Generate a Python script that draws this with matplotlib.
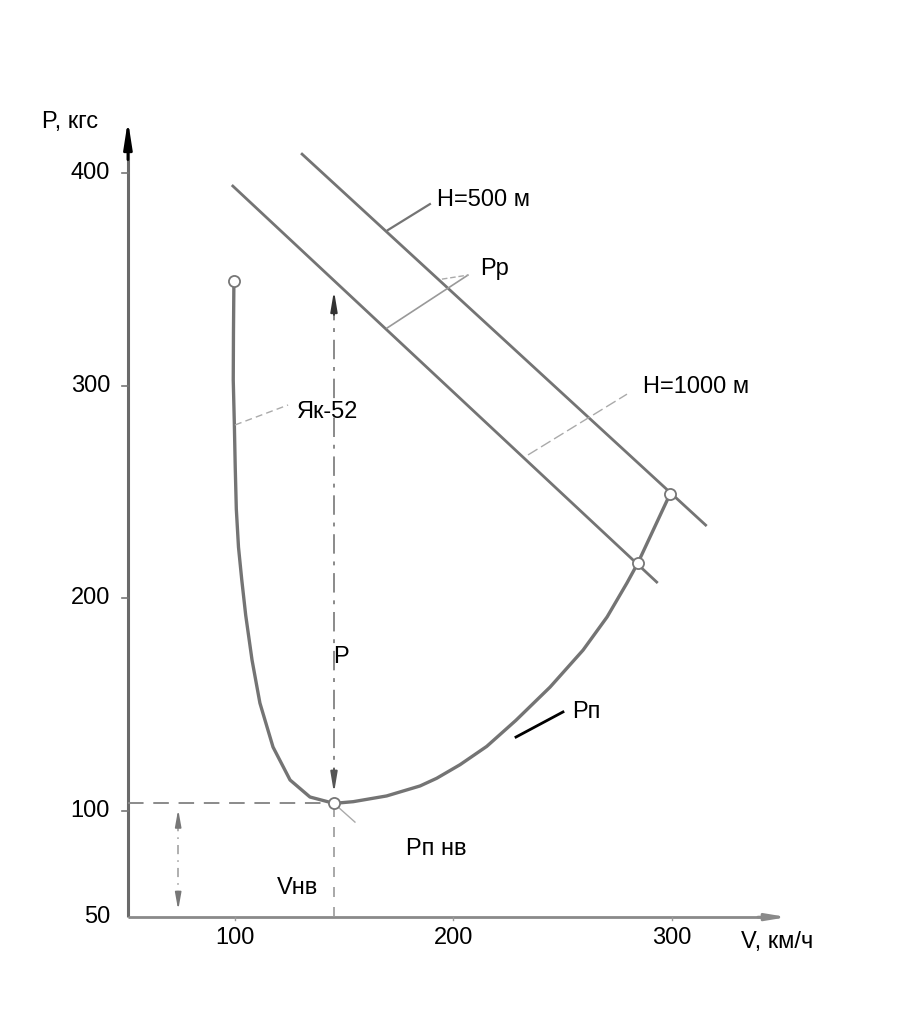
import matplotlib
matplotlib.use("Agg")
from matplotlib import pyplot as plt

plt.rcParams['font.family'] = ['Liberation Sans', 'DejaVu Sans']

# кривая потребной тяги Як-52
v_pn = [99.5, 99.3, 99.2, 99.7, 100.1, 100.6, 101.6, 103.1, 104.9, 107.8, 111.4,
        117.4, 125.2, 134.3, 145.3, 154.1, 169.4, 184.7, 192.3, 203.0, 215.2,
        228.5, 244.2, 259.3, 270.3, 279.4, 284.4, 299.1]
p_pn = [349, 325, 302.6, 282, 262, 242, 224, 208.6, 192, 170.9, 150.7,
        130.0, 114.5, 106.5, 103.5, 104.3, 107.0, 111.7, 115.3, 121.7, 130.3,
        142.5, 158.2, 175.6, 191.2, 207.2, 216.6, 249.0]

# располагаемая тяга
v_h1000 = [99, 293]
p_h1000 = [393.9, 207.6]
v_h500 = [130.7, 315.4]
p_h500 = [408.9, 234.4]

# точки
v_pts = [99.5, 145.3, 284.4, 299.1]
p_pts = [349, 103.5, 216.6, 249.0]

v_nv, p_nv = 145.3, 103.5

yticks = [400, 300, 200, 100, 50]
xticks = [100, 200, 300]

grey = '#747474'
fs = 17

fig = plt.figure(figsize=(9.2, 10.3), dpi=100)
ax = fig.add_axes([0, 0, 1, 1])
ax.set_xlim(-7.55, 413.5)
ax.set_ylim(-3.1, 481.4)
ax.axis('off')

# оси
ax.plot([51, 51], [50, 412], color='#6a6a6a', lw=2.2, solid_capstyle='butt')
ax.annotate('', xy=(51, 426), xytext=(51, 405),
            arrowprops=dict(arrowstyle='-|>,head_length=1.6,head_width=0.25', color='black', lw=2))
ax.plot([51, 342], [50, 50], color='#8a8a8a', lw=2, solid_capstyle='butt')
ax.annotate('', xy=(354, 50), xytext=(338, 50),
            arrowprops=dict(arrowstyle='-|>,head_length=1.2,head_width=0.2', color='#8a8a8a', lw=2))

for y in yticks[:-1]:
    ax.plot([48.5, 51], [y, y], color='#777777', lw=1.2)
    ax.text(42.8, y, str(y), ha='right', va='center', fontsize=fs)
ax.text(42.8, 50, '50', ha='right', va='center', fontsize=fs)
for x in xticks:
    ax.plot([x, x], [50, 48.8], color='#999999', lw=1)
    ax.text(x, 40.2, str(x), ha='center', va='center', fontsize=fs)

ax.text(11.7, 424, 'P, кгс', ha='left', va='center', fontsize=fs)
ax.text(331.6, 38.3, 'V, км/ч', ha='left', va='center', fontsize=fs)

# линии
ax.plot(v_h1000, p_h1000, color=grey, lw=2)
ax.plot(v_h500, p_h500, color=grey, lw=2)
ax.plot(v_pn, p_pn, color=grey, lw=2.4, solid_capstyle='round', solid_joinstyle='round')
ax.plot(v_pts, p_pts, 'o', ms=8, mfc='white', mec='#777777', mew=1.3, zorder=5)

# пунктир к точке наивыгоднейшей скорости
ax.plot([51, v_nv], [p_nv, p_nv], color='#8a8a8a', lw=1.4, dashes=(8, 5))
ax.plot([v_nv, v_nv], [50, p_nv], color='#9a9a9a', lw=1.2, dashes=(6, 6))
ax.plot([v_nv, v_nv], [111, 339], color='#8a8a8a', lw=1.4, dashes=(10, 4, 2, 4))
ax.annotate('', xy=(v_nv, 346), xytext=(v_nv, 332),
            arrowprops=dict(arrowstyle='-|>,head_length=1.2,head_width=0.2', color='#333333', lw=1.4))
ax.annotate('', xy=(v_nv, 107), xytext=(v_nv, 121),
            arrowprops=dict(arrowstyle='-|>,head_length=1.2,head_width=0.2', color='#555555', lw=1.4))
ax.plot([74, 74], [58, 97], color='#9a9a9a', lw=1.1, dashes=(6, 4, 1, 4))
ax.annotate('', xy=(74, 102), xytext=(74, 92),
            arrowprops=dict(arrowstyle='-|>,head_length=1.0,head_width=0.18', color='#777777', lw=1.2))
ax.annotate('', xy=(74, 52), xytext=(74, 62),
            arrowprops=dict(arrowstyle='-|>,head_length=1.0,head_width=0.18', color='#777777', lw=1.2))

# выноски
ax.plot([100, 124.3], [281.5, 290.9], color='#aaaaaa', lw=1, dashes=(5, 3))
ax.plot([170, 189.2], [373.2, 385.4], color=grey, lw=1.6)
ax.plot([169.6, 206.6], [327.1, 352.0], color='#999999', lw=1.2)
ax.plot([194.7, 206.6], [350.1, 352.0], color='#aaaaaa', lw=1, dashes=(4, 2))
ax.plot([234.1, 279.4], [267.4, 296.0], color='#aaaaaa', lw=1, dashes=(8, 3))
ax.plot([228.6, 250.1], [134.7, 146.5], color='black', lw=2)
ax.plot([v_nv, 154.9], [p_nv, 94.7], color='#aaaaaa', lw=1)

ax.text(128.4, 287.6, 'Як-52', ha='left', va='center', fontsize=fs)
ax.text(192.4, 387.3, 'H=500 м', ha='left', va='center', fontsize=fs)
ax.text(212.1, 354.8, 'Pp', ha='left', va='center', fontsize=fs)
ax.text(286.7, 299.3, 'H=1000 м', ha='left', va='center', fontsize=fs)
ax.text(148.5, 172.3, 'P', ha='center', va='center', fontsize=fs)
ax.text(254.2, 146.5, 'Рп', ha='left', va='center', fontsize=fs)
ax.text(119.2, 63.7, 'Vнв', ha='left', va='center', fontsize=fs)
ax.text(178.3, 82, 'Рп нв', ha='left', va='center', fontsize=fs)

plt.savefig('out.png', dpi=100)
